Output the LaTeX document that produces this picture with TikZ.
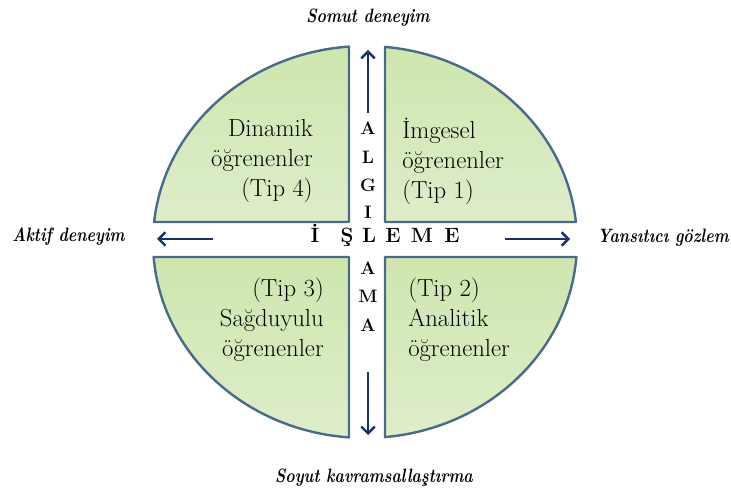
\documentclass[tikz,border=0pt]{standalone}
\usepackage{fontspec}
\setmainfont{Latin Modern Roman}
\newfontfamily\sidefont{Latin Modern Roman}[FakeStretch=0.82]
\usetikzlibrary{arrows.meta}
\definecolor{qborder}{HTML}{4A6A8A}
\definecolor{qtop}{HTML}{CFE6AE}
\definecolor{qbot}{HTML}{DDEDCA}
\definecolor{navy}{HTML}{18306E}
\tikzset{
  quad/.style={draw=qborder, line width=1.8pt, top color=qtop, bottom color=qbot, line join=round},
  qtext/.style={inner sep=0pt, font=\fontsize{18.5}{22.5}\selectfont},
  vletter/.style={inner sep=0pt, anchor=base, font=\fontsize{13.5}{15}\selectfont\bfseries},
  hletter/.style={inner sep=0pt, anchor=base, font=\fontsize{15.5}{17}\selectfont\bfseries},
  sidelabel/.style={inner sep=0pt, font=\sidefont\fontsize{14.5}{17}\selectfont\bfseries\itshape},
  axisarrow/.style={draw=navy, line width=1.8pt, -{Straight Barb[length=5pt,width=10pt]}}
}
\begin{document}
\begin{tikzpicture}[x=0.75pt,y=0.75pt]
\useasboundingbox (0,0) rectangle (731,495);
% quadrants (ellipse centre (365,253), rx 212, ry 196)
\path[quad] (349,273) -- (349,448.4) arc[start angle=94.33, end angle=174.14, x radius=212, y radius=196] -- cycle;
\path[quad] (385,273) -- (385,448.1) arc[start angle=84.59, end angle=5.86, x radius=212, y radius=196] -- cycle;
\path[quad] (349,238) -- (349,57.6) arc[start angle=265.67, end angle=184.39, x radius=212, y radius=196] -- cycle;
\path[quad] (385,238) -- (385,57.9) arc[start angle=275.41, end angle=355.61, x radius=212, y radius=196] -- cycle;
% quadrant texts
\node[qtext, align=right, anchor=east] (tl) at (313,334) {Dinamik\\öğrenenler\\(Tip 4)};
\node[qtext, align=left, anchor=west] (tr) at (402,334) {İmgesel\\öğrenenler\\(Tip 1)};
\node[qtext, align=right, anchor=east] (bl) at (324,175.5) {(Tip 3)\\Sağduyulu\\öğrenenler};
\node[qtext, align=left, anchor=west] (br) at (408,175.5) {(Tip 2)\\Analitik\\öğrenenler};
% vertical ALGILAMA
\node[vletter] (v1) at (368,360) {A};
\node[vletter] (v2) at (368,331) {L};
\node[vletter] (v3) at (368,303) {G};
\node[vletter] (v4) at (368,276) {I};
\node[vletter] (v6) at (368,220) {A};
\node[vletter] (v7) at (368,192) {M};
\node[vletter] (v8) at (368,163) {A};
% horizontal İŞLEME
\node[hletter] (h1) at (315,252) {İ};
\node[hletter] (h2) at (347,252) {Ş};
\node[hletter] (h3) at (369,252) {L};
\node[hletter] (h4) at (393,252) {E};
\node[hletter] (h5) at (422,252) {M};
\node[hletter] (h6) at (452,252) {E};
% side labels
\node[sidelabel, anchor=base] (top) at (368,472) {Somut deneyim};
\node[sidelabel, anchor=base] (bottom) at (374,12) {Soyut kavramsallaştırma};
\node[sidelabel, anchor=base west] (left) at (12,253) {Aktif deneyim};
\node[sidelabel, anchor=base east] (right) at (729,252) {Yansıtıcı gözlem};
% arrows
\coordinate (upS) at (368,382);
\coordinate (upE) at (368,445);
\coordinate (dnS) at (368,123);
\coordinate (dnE) at (368,60);
\coordinate (lfS) at (213,256);
\coordinate (lfE) at (157,256);
\coordinate (rtS) at (505,256);
\coordinate (rtE) at (570,256);
\draw[axisarrow] (upS) -- (upE);
\draw[axisarrow] (dnS) -- (dnE);
\draw[axisarrow] (lfS) -- (lfE);
\draw[axisarrow] (rtS) -- (rtE);
\end{tikzpicture}
\end{document}
